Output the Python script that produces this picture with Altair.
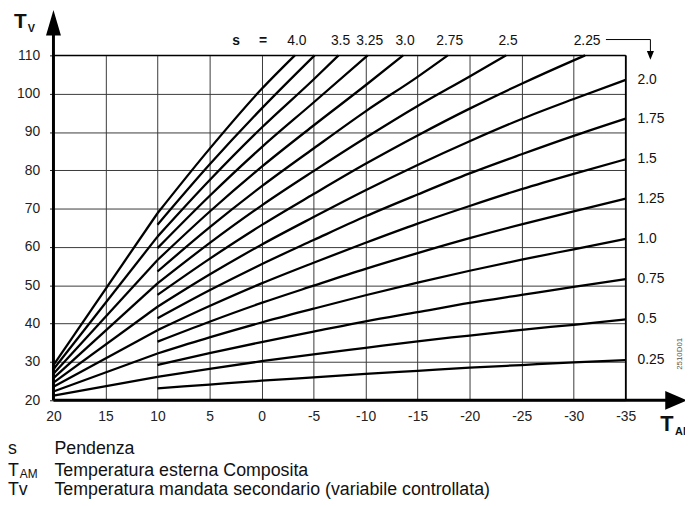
import altair as alt
import pandas as pd

FONT = "Liberation Sans"

# ---------------- data ----------------
x_ticks = [20, 15, 10, 5, 0, -5, -10, -15, -20, -25, -30, -35]
y_ticks = [20, 30, 40, 50, 60, 70, 80, 90, 100, 110]

# curves that continue from TAM=20 (left part) have an extra first point
tam_s025 = [10, 5, 0, -5, -10, -15, -20, -25, -30, -35]
tv_s025 = [23.1, 24.1, 25.1, 26.0, 26.9, 27.7, 28.5, 29.2, 29.9, 30.5]
tam_s050 = [20, 10, 5, 0, -5, -10, -15, -20, -25, -30, -35]
tv_s050 = [21.2, 26.1, 28.2, 30.2, 32.0, 33.7, 35.4, 36.9, 38.4, 39.7, 41.1]
tam_s075 = [10, 5, 0, -5, -10, -15, -20, -25, -30, -35]
tv_s075 = [29.2, 32.3, 35.2, 37.9, 40.6, 43.0, 45.4, 47.5, 49.6, 51.6]
tam_s100 = [20, 10, 5, 0, -5, -10, -15, -20, -25, -30, -35]
tv_s100 = [22.3, 32.2, 36.4, 40.3, 43.9, 47.4, 50.7, 53.8, 56.7, 59.4, 62.1]
tam_s125 = [10, 5, 0, -5, -10, -15, -20, -25, -30, -35]
tv_s125 = [35.3, 40.5, 45.4, 49.9, 54.3, 58.4, 62.3, 65.9, 69.3, 72.6]
tam_s150 = [20, 10, 5, 0, -5, -10, -15, -20, -25, -30, -35]
tv_s150 = [23.5, 38.3, 44.6, 50.5, 55.9, 61.1, 66.1, 70.7, 75.1, 79.1, 82.9]
tam_s175 = [10, 5, 0, -5, -10, -15, -20, -25, -30, -35]
tv_s175 = [41.4, 48.7, 55.5, 61.8, 68.0, 73.7, 79.2, 84.2, 89.0, 93.5]
tam_s200 = [20, 10, 5, 0, -5, -10, -15, -20, -25, -30, -35]
tv_s200 = [24.6, 44.4, 52.8, 60.6, 67.8, 74.8, 81.4, 87.6, 93.4, 98.6, 103.6]
tam_s225 = [10, 5, 0, -5, -10, -15, -20, -25, -30, -31.1]
tv_s225 = [47.5, 56.9, 65.7, 73.8, 81.7, 89.1, 96.1, 102.6, 108.7, 110]
tam_s250 = [20, 10, 5, 0, -5, -10, -15, -20, -23.5]
tv_s250 = [25.8, 50.5, 61.0, 70.8, 79.8, 88.5, 96.8, 104.5, 110]
tam_s275 = [10, 5, 0, -5, -10, -15, -17.9]
tv_s275 = [53.6, 65.1, 75.8, 85.7, 95.4, 104.4, 110]
tam_s300 = [20, 10, 5, 0, -5, -10, -13.6]
tv_s300 = [26.9, 56.6, 69.2, 80.9, 91.7, 102.2, 110]
tam_s325 = [10, 5, 0, -5, -10.2]
tv_s325 = [59.7, 73.3, 86.0, 97.7, 110]
tam_s350 = [20, 10, 5, 0, -5, -7.4]
tv_s350 = [28.1, 62.7, 77.4, 91.1, 103.7, 110]
tam_s375 = [10, 5, 0, -5.1]
tv_s375 = [65.8, 81.5, 96.1, 110]
tam_s400 = [20, 10, 5, 0, -3.2]
tv_s400 = [29.2, 68.8, 85.6, 101.2, 110]

curve_names = ["0.25", "0.5", "0.75", "1.0", "1.25", "1.5", "1.75", "2.0",
               "2.25", "2.5", "2.75", "3.0", "3.25", "3.5", "3.75", "4.0"]
curve_tams = [tam_s025, tam_s050, tam_s075, tam_s100, tam_s125, tam_s150, tam_s175, tam_s200,
              tam_s225, tam_s250, tam_s275, tam_s300, tam_s325, tam_s350, tam_s375, tam_s400]
curve_tvs = [tv_s025, tv_s050, tv_s075, tv_s100, tv_s125, tv_s150, tv_s175, tv_s200,
             tv_s225, tv_s250, tv_s275, tv_s300, tv_s325, tv_s350, tv_s375, tv_s400]

right_labels = ["2.0", "1.75", "1.5", "1.25", "1.0", "0.75", "0.5", "0.25"]
top_labels = ["4.0", "3.5", "3.25", "3.0", "2.75", "2.5", "2.25"]

# ---------------- tables ----------------
left_rows, right_rows = [], []
for name, tams, tvs in zip(curve_names, curve_tams, curve_tvs):
    for t, v in zip(tams, tvs):
        if t >= 10:
            left_rows.append({"s": name, "TAM": t, "Tv": v})
        if t <= 10:
            right_rows.append({"s": name, "TAM": t, "Tv": v})
left_df = pd.DataFrame(left_rows)
left_df = left_df[left_df.groupby("s")["s"].transform("size") > 1]
curve_df = pd.DataFrame(right_rows)

end_lookup = {n: (tms[-1], tvs[-1]) for n, tms, tvs in zip(curve_names, curve_tams, curve_tvs)}
rlab_df = pd.DataFrame({"lab": right_labels, "Tv": [end_lookup[l][1] for l in right_labels]})
top_df = pd.DataFrame({"lab": top_labels, "TAM": [end_lookup[l][0] for l in top_labels]})

one = pd.DataFrame({"a": [0]})

xs = alt.Scale(domain=[20, -35], nice=False, zero=False)
ys = alt.Scale(domain=[20, 110], nice=False, zero=False)

W, H = 579, 349

x_axis = alt.Axis(
    values=x_ticks, grid=True, ticks=False, domain=False, title=None,
    labelPadding=9, labelFontSize=14, labelColor="#222", labelFont=FONT,
    labelExpr="'' + datum.value", labelFlush=False, labelOverlap=False,
    gridColor="#3a3a3a", gridWidth=1)
y_axis = alt.Axis(
    values=y_ticks, grid=True, ticks=True, tickSize=4, tickColor="#222",
    domain=False, title=None, labelPadding=10, labelFontSize=14,
    labelColor="#222", labelFont=FONT, labelExpr="'' + datum.value",
    labelOverlap=False, labelFlush=False,
    gridColor="#3a3a3a", gridWidth=1)

curves = alt.Chart(curve_df).mark_line(color="black", strokeWidth=2.3, interpolate="monotone").encode(
    x=alt.X("TAM:Q", scale=xs, axis=x_axis),
    y=alt.Y("Tv:Q", scale=ys, axis=y_axis),
    detail="s:N",
)
left_lines = alt.Chart(left_df).mark_line(color="black", strokeWidth=2.3).encode(
    x=alt.X("TAM:Q", scale=xs, axis=None),
    y=alt.Y("Tv:Q", scale=ys, axis=None),
    detail="s:N",
)

def rule(x, x2, y, y2, w):
    return alt.Chart(one).mark_rule(color="black", strokeWidth=w).encode(
        x=alt.value(x), x2=alt.value(x2), y=alt.value(y), y2=alt.value(y2))

def txt(t, x, y, size=14, bold=False, align="left", baseline="alphabetic", angle=0, color="#111"):
    return alt.Chart(one).mark_text(
        text=t, fontSize=size, font=FONT, fontWeight="bold" if bold else "normal",
        align=align, baseline=baseline, angle=angle, color=color
    ).encode(x=alt.value(x), y=alt.value(y))

def shape(path, x, y, size):
    return alt.Chart(one).mark_point(shape=path, filled=True, color="black",
                                     size=size, opacity=1, strokeWidth=0).encode(
        x=alt.value(x), y=alt.value(y))

axes_lines = [
    rule(0, 0, -22, H, 3),          # y axis
    rule(0, 622, H, H, 3),          # x axis
    rule(W, W, 0, H, 1.6),          # right border
    rule(0, W, 0, 0, 1.2),          # top border
    rule(559, 604, -16, -16, 1),    # arrow from 2.25
    rule(604, 604, -16, 0, 1),
]
arrows = [
    shape("M0,-1L0.58,1L-0.58,1Z", 0, -33, 676),
    shape("M1,0L-1,0.86L-1,-0.86Z", 630, H, 484),
    shape("M-0.8,-1L0.8,-1L0,1Z", 604, 0, 81),
]

right_text = alt.Chart(rlab_df).mark_text(
    fontSize=14, font=FONT, align="left", baseline="middle", color="#111"
).encode(x=alt.value(591), y=alt.Y("Tv:Q", scale=ys, axis=None), text="lab:N")

top_text = alt.Chart(top_df).mark_text(
    fontSize=14, font=FONT, align="center", baseline="alphabetic", color="#111", dx=2
).encode(x=alt.X("TAM:Q", scale=xs, axis=None), y=alt.value(-10), text="lab:N")

LF = 18
texts = [
    txt("s", 181, -10, 14, True),
    txt("=", 208, -10, 14, True),
    txt("T", -40, -28, 21, True),
    txt("V", -26, -24, 11, True),
    txt("T", 614, 380, 22, True),
    txt("AM", 629, 384, 11, True),
    txt("2510D01", 634, 302, 8, False, "center", "middle", 270, "#555"),
    txt("s", -46, 403, LF),
    txt("Pendenza", 1, 403, LF),
    txt("T", -46, 426, LF),
    txt("AM", -34, 428, 12),
    txt("Temperatura esterna Composita", 1, 426, LF),
    txt("Tv", -46, 445, LF),
    txt("Temperatura mandata secondario (variabile controllata)", 1, 445, LF),
]

chart = alt.layer(curves, left_lines, *axes_lines, *arrows, right_text, top_text, *texts).properties(
    width=W, height=H,
    autosize=alt.AutoSizeParams(type="none"),
    padding={"left": 46, "top": 45, "right": 60, "bottom": 100},
).resolve_axis(x="independent", y="independent").configure_view(stroke=None)

chart.save("out.html", embed_options={"renderer": "svg", "actions": False})
